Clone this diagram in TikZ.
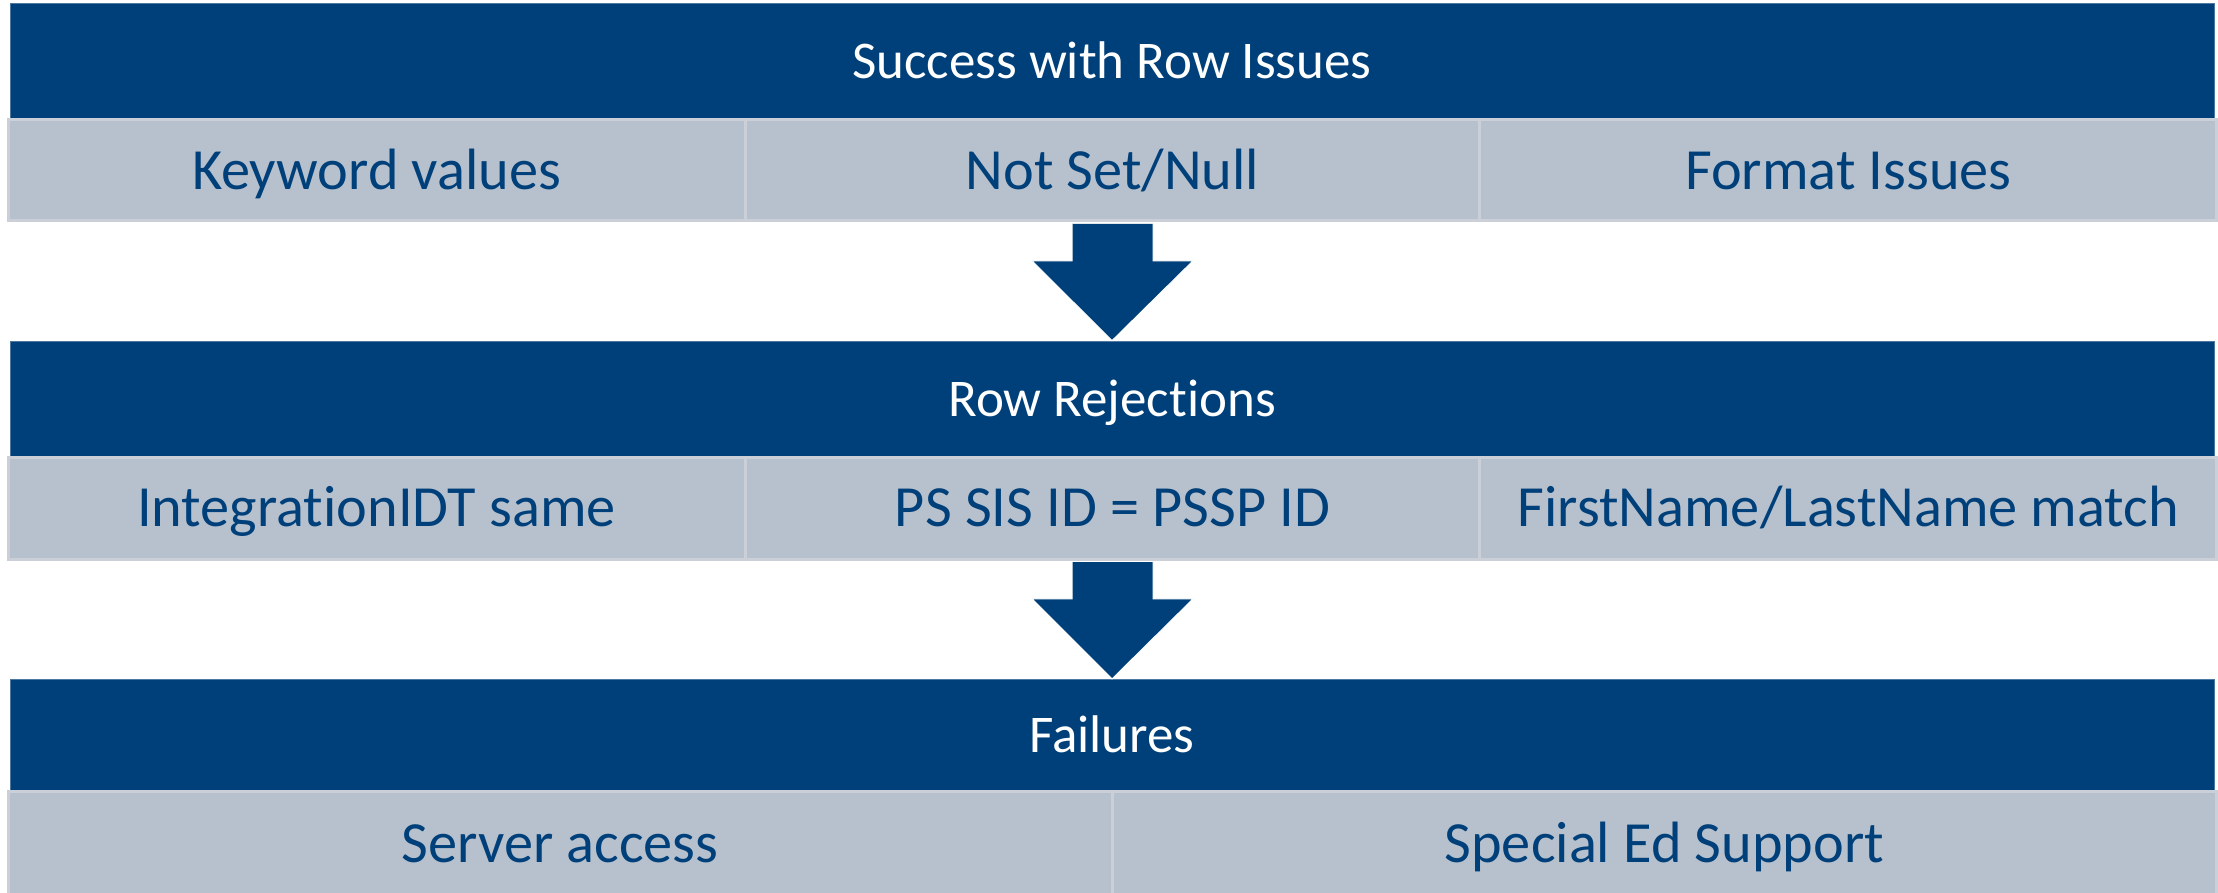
\documentclass[tikz,border=0pt]{standalone}
\usepackage{fontspec}
\setmainfont{Carlito}[Ligatures=NoCommon]
\usetikzlibrary{calc}
\definecolor{hdrblue}{RGB}{0,64,122}
\definecolor{cellgray}{RGB}{183,193,205}
\definecolor{cellline}{RGB}{202,207,216}
\tikzset{
  hdr/.style={rectangle, fill=hdrblue, draw=hdrblue!70!white, line width=0.8pt, inner sep=0pt,
    minimum width=2204pt, text=white, font=\fontsize{53}{60}\selectfont,
    text height=34.1pt, text depth=0pt},
  cell/.style={rectangle, fill=cellgray, draw=cellline, line width=3pt, inner sep=0pt,
    text=hdrblue, font=\fontsize{58.3}{66}\selectfont,
    text height=37.5pt, text depth=0pt},
  blockarrow/.style={fill=hdrblue, draw=white, line width=1pt, line join=miter}
}
\begin{document}
\begin{tikzpicture}[x=1pt,y=-1pt]
\useasboundingbox[fill=white] (0,0) rectangle (2218,893);
% row 1
\node[hdr, minimum height=116.7pt] (h1) at (1112,61.7) {Success with Row Issues};
\node[cell, minimum width=737pt, minimum height=101pt] (r11) at (376.5,170.5) {Keyword values};
\node[cell, minimum width=735pt, minimum height=101pt] (r12) at (1112.5,170.5) {Not Set/Null};
\node[cell, minimum width=736.7pt, minimum height=101pt] (r13) at (1848.3,170.5) {Format Issues};
% row 2
\node[hdr, minimum height=116.3pt] (h2) at (1112,399.2) {Row Rejections};
\node[cell, minimum width=737pt, minimum height=101.7pt] (r21) at (376.5,508.2) {IntegrationIDT same};
\node[cell, minimum width=735pt, minimum height=101.7pt] (r22) at (1112.5,508.2) {PS SIS ID = PSSP ID};
\node[cell, minimum width=736.7pt, minimum height=101.7pt] (r23) at (1848.3,508.2) {FirstName/LastName match};
% row 3
\node[hdr, minimum height=111.7pt] (h3) at (1112,735.2) {Failures};
\node[cell, minimum width=1104pt, minimum height=105pt] (r31) at (560,843.5) {Server access};
\node[cell, minimum width=1104.7pt, minimum height=105pt] (r32) at (1664.4,843.5) {Special Ed Support};
% arrows
\coordinate (a1top) at ($(r12.south)+(0,1.5)$);
\fill[blockarrow] ($(a1top)+(-40.5,0)$) -- ($(a1top)+(-40.5,36.8)$) -- ($(a1top)+(-80.5,36.8)$)
  -- (h2.north) -- ($(a1top)+(80.5,36.8)$) -- ($(a1top)+(40.5,36.8)$) -- ($(a1top)+(40.5,0)$);
\coordinate (a2top) at ($(r22.south)+(0,1.5)$);
\fill[blockarrow] ($(a2top)+(-40.5,0)$) -- ($(a2top)+(-40.5,36.8)$) -- ($(a2top)+(-80.5,36.8)$)
  -- (h3.north) -- ($(a2top)+(80.5,36.8)$) -- ($(a2top)+(40.5,36.8)$) -- ($(a2top)+(40.5,0)$);
\end{tikzpicture}
\end{document}
